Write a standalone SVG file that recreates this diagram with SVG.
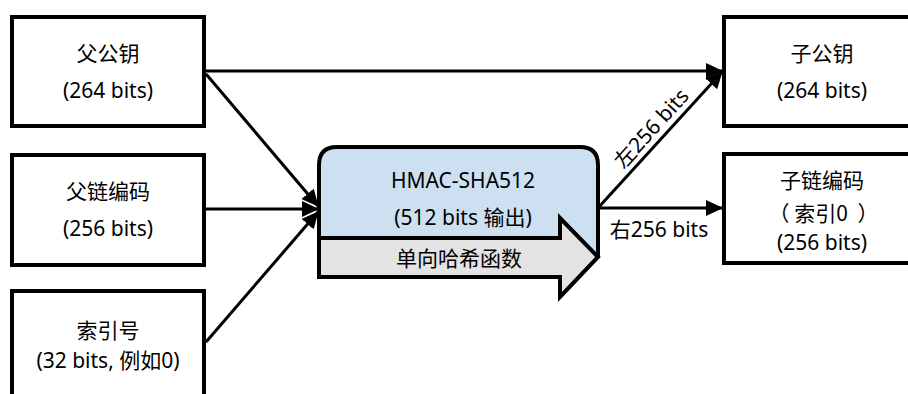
<svg xmlns="http://www.w3.org/2000/svg" width="908" height="394" viewBox="0 0 908 394">
<defs>
<style>
.box{fill:#fff;stroke:#000;stroke-width:4}
.t{font-family:"Noto Sans","Noto Sans CJK SC",sans-serif;font-size:21px;fill:#000;text-anchor:middle;dominant-baseline:central}
.cjk{font-family:"Noto Sans CJK SC",sans-serif}
.ln{stroke:#000;stroke-width:3;fill:none}
</style>
<marker id="ah" markerUnits="userSpaceOnUse" markerWidth="18" markerHeight="16" refX="16" refY="8" orient="auto">
<path d="M0,0 L17,8 L0,16 Z" fill="#000"/>
</marker>
</defs>
<rect width="908" height="394" fill="#fff"/>
<g id="connectors">
<line class="ln" x1="204" y1="71" x2="722" y2="71" marker-end="url(#ah)"/>
<line class="ln" x1="206" y1="74" x2="318" y2="206" marker-end="url(#ah)"/>
<line class="ln" x1="204" y1="209" x2="318" y2="209" marker-end="url(#ah)"/>
<line class="ln" x1="206" y1="342" x2="318" y2="212" marker-end="url(#ah)"/>
<line class="ln" x1="598" y1="208" x2="722" y2="72" marker-end="url(#ah)"/>
<line class="ln" x1="598" y1="208" x2="722" y2="208" marker-end="url(#ah)"/>
<text class="t" transform="translate(651,128) rotate(-47.8)">左256 bits</text>
<text class="t" x="659" y="229">右256 bits</text>
</g>
<g id="parent-pubkey">
<rect class="box" x="12" y="17" width="192" height="109"/>
<text class="t" x="108" y="53">父公钥</text>
<text class="t" x="108" y="90">(264 bits)</text>
</g>
<g id="parent-chaincode">
<rect class="box" x="12" y="155" width="192" height="110"/>
<text class="t" x="108" y="191">父链编码</text>
<text class="t" x="108" y="228">(256 bits)</text>
</g>
<g id="index">
<rect class="box" x="12" y="291" width="192" height="120"/>
<text class="t" x="108" y="330">索引号</text>
<text class="t" x="108" y="360">(32 bits, 例如0)</text>
</g>
<g id="hmac">
<path d="M319,258 V165 Q319,147 337,147 H580 Q598,147 598,165 V258" fill="#cde0f2" stroke="#000" stroke-width="4"/>
<text class="t" x="463" y="180">HMAC-SHA512</text>
<text class="t" x="463" y="217">(512 bits 输出)</text>
<polygon points="319,238 560,238 560,218 598,257 560,297 560,277 319,277" fill="#e3e3e3" stroke="#000" stroke-width="4" stroke-linejoin="miter"/>
<text class="t" x="459" y="258">单向哈希函数</text>
</g>
<g id="child-pubkey">
<rect class="box" x="724" y="17" width="196" height="109"/>
<text class="t" x="822" y="53">子公钥</text>
<text class="t" x="822" y="90">(264 bits)</text>
</g>
<g id="child-chaincode">
<rect class="box" x="724" y="154" width="196" height="109"/>
<text class="t" x="822" y="180">子链编码</text>
<text class="t cjk" y="212"><tspan x="779">（</tspan><tspan x="821">索引0</tspan><tspan x="868">）</tspan></text>
<text class="t" x="822" y="242">(256 bits)</text>
</g>
</svg>
